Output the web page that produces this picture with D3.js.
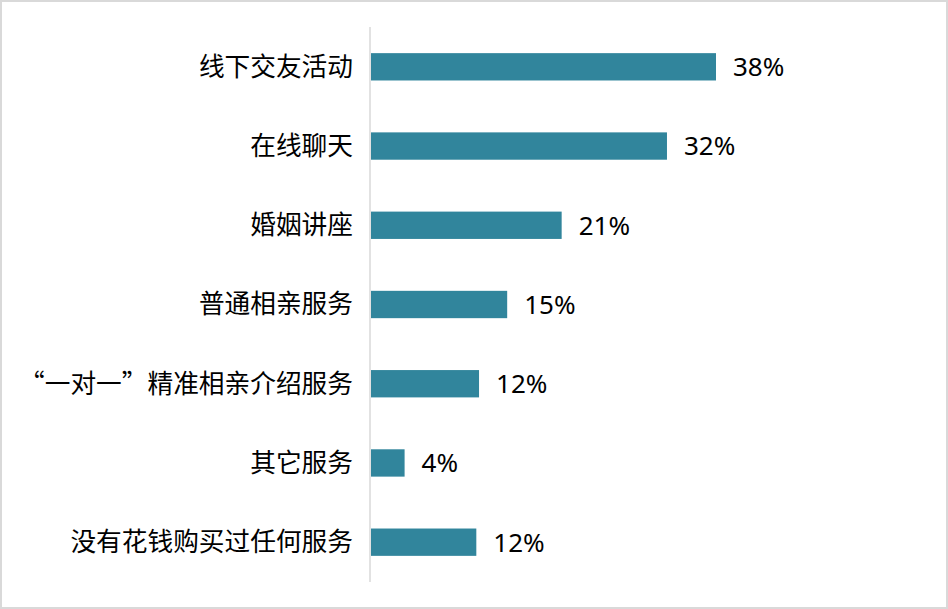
<!DOCTYPE html>
<html><head><meta charset="utf-8">
<script src="https://cdn.jsdelivr.net/npm/d3@7"></script>
<style>
html,body{margin:0;padding:0;background:#fff;}
svg{display:block;}
</style>
</head><body>
<svg id="chart" width="948" height="609"></svg>
<script>
const categories = ["线下交友活动","在线聊天","婚姻讲座","普通相亲服务","“一对一”精准相亲介绍服务","其它服务","没有花钱购买过任何服务"];
const values = [38.0, 32.6, 21.0, 15.0, 11.9, 3.7, 11.6];
const valueLabels = ["38%","32%","21%","15%","12%","4%","12%"];

(function(){
const svg = d3.select("#chart");
const W = 948, H = 609;
svg.append("rect").attr("x",1).attr("y",1).attr("width",W-2).attr("height",H-2)
  .attr("fill","#fff").attr("stroke","#d9d9d9").attr("stroke-width",2);

const x0 = 371, yTop = 27, yBottom = 582;
const x = d3.scaleLinear().domain([0,38]).range([x0, 716]);
const y = d3.scaleBand().domain(categories).range([yTop,yBottom]).paddingInner(0.655).paddingOuter(0.33);

svg.append("g").selectAll("rect").data(categories).join("rect")
  .attr("x", x(0))
  .attr("y", d=>y(d))
  .attr("width", (d,i)=>x(values[i])-x(0))
  .attr("height", y.bandwidth())
  .attr("fill","#31859c");

svg.append("line").attr("x1",370).attr("x2",370).attr("y1",yTop).attr("y2",yBottom)
  .attr("stroke","#d9d9d9").attr("stroke-width",1.5);

svg.append("g").selectAll("text").data(categories).join("text")
  .attr("x", 353)
  .attr("y", d=>y(d)+y.bandwidth()/2)
  .attr("dy","0.35em")
  .attr("text-anchor","end")
  .attr("font-family","'Noto Sans CJK SC','Noto Sans',sans-serif")
  .attr("font-size",25.7)
  .attr("fill","#000")
  .text(d=>d);

svg.append("g").selectAll("text").data(categories).join("text")
  .attr("x", (d,i)=>x(values[i])+17)
  .attr("y", d=>y(d)+y.bandwidth()/2)
  .attr("dy","0.36em")
  .attr("font-family","'Noto Sans','Open Sans',sans-serif")
  .attr("font-size",26)
  .attr("fill","#000")
  .text((d,i)=>valueLabels[i]);
})();
</script>
</body></html>
